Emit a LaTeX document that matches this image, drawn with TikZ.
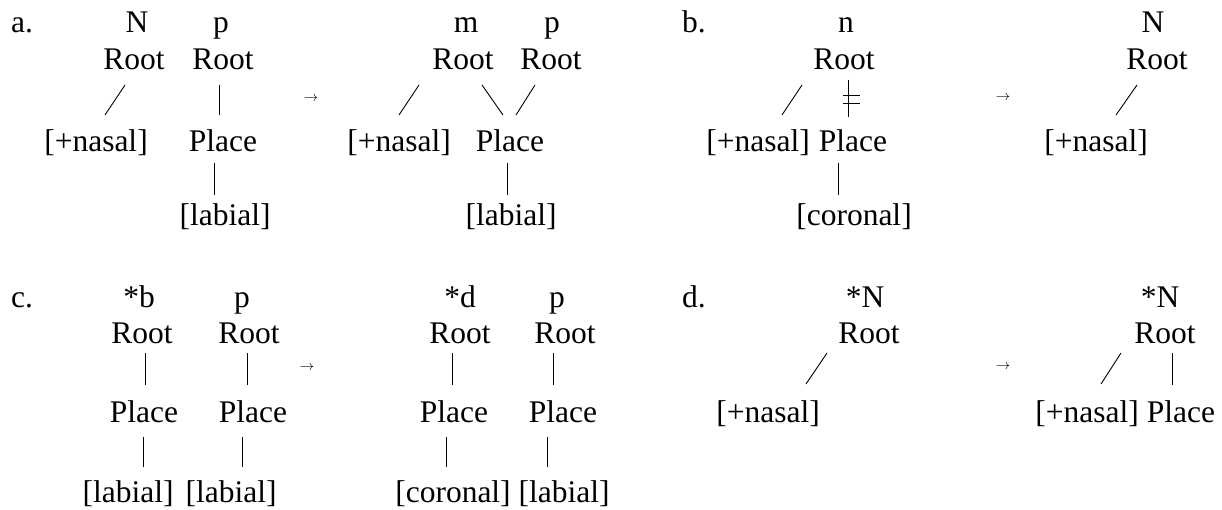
\documentclass[tikz,border=0pt]{standalone}
\usepackage{fontspec}
\setmainfont{Liberation Serif}
\usetikzlibrary{calc}
\tikzset{
  lab/.style={inner sep=0pt, anchor=base, font=\fontsize{31.5}{36}\selectfont},
  arr/.style={inner sep=0pt, anchor=center, font=\fontsize{15}{17}\selectfont},
  conn/.style={line width=0.9pt}
}
\begin{document}
\begin{tikzpicture}[x=1pt,y=-1pt]
\useasboundingbox (0,0) rectangle (1222,510);
% ---------- panel a ----------
\node[lab] (aL) at (22,33) {a.};
\node[lab] (aN) at (137,33) {N};
\node[lab] (ap) at (221,33) {p};
\node[lab] (aR1) at (134,70) {Root};
\node[lab] (aR2) at (223,70) {Root};
\node[lab] (aNas) at (96,152) {[+nasal]};
\node[lab] (aPl) at (223,152) {Place};
\node[lab] (aLab) at (225,226) {[labial]};
\draw[conn] ($(aR1.base)+(-9,15)$) -- ($(aNas.base)+(9,-37)$);
\draw[conn] ($(aR2.base)+(-4,15)$) -- ($(aPl.base)+(-4,-37)$);
\draw[conn] ($(aPl.base)+(-9,11)$) -- ($(aLab.base)+(-11,-31)$);
\node[arr] (aA) at (311,99) {$\rightarrow$};
\node[lab] (am) at (466,33) {m};
\node[lab] (ap2) at (552,33) {p};
\node[lab] (aR3) at (463,70) {Root};
\node[lab] (aR4) at (551,70) {Root};
\node[lab] (aNas2) at (399,152) {[+nasal]};
\node[lab] (aPl2) at (510,152) {Place};
\node[lab] (aLab2) at (511,226) {[labial]};
\draw[conn] ($(aR3.base)+(-44,15)$) -- ($(aNas2.base)+(0,-37)$);
\draw[conn] ($(aR3.base)+(19,15)$) -- ($(aPl2.base)+(-7,-37)$);
\draw[conn] ($(aR4.base)+(-16,15)$) -- ($(aPl2.base)+(6,-37)$);
\draw[conn] ($(aPl2.base)+(-3,11)$) -- ($(aLab2.base)+(-4,-31)$);
% ---------- panel b ----------
\node[lab] (bL) at (694,33) {b.};
\node[lab] (bn) at (846,33) {n};
\node[lab] (bR) at (844,70) {Root};
\node[lab] (bNas) at (758,152) {[+nasal]};
\node[lab] (bPl) at (853,152) {Place};
\node[lab] (bCor) at (854,226) {[coronal]};
\draw[conn] ($(bR.base)+(-42,15)$) -- ($(bNas.base)+(24,-37)$);
\draw[conn] ($(bR.base)+(4,10)$) -- ($(bPl.base)+(-5,-35)$);
\draw[conn] ($(bR.base)+(-1,25)$) -- ($(bR.base)+(16,25)$);
\draw[conn] ($(bR.base)+(-1,33)$) -- ($(bR.base)+(16,33)$);
\draw[conn] ($(bPl.base)+(-15,11)$) -- ($(bCor.base)+(-16,-31)$);
\node[arr] (bA) at (1003,98) {$\rightarrow$};
\node[lab] (bN) at (1153,33) {N};
\node[lab] (bR2) at (1157,70) {Root};
\node[lab] (bNas2) at (1096,152) {[+nasal]};
\draw[conn] ($(bR2.base)+(-20,15)$) -- ($(bNas2.base)+(20,-37)$);
% ---------- panel c ----------
\node[lab] (cL) at (22,308) {c.};
\node[lab] (cb) at (139,308) {*b};
\node[lab] (cp) at (242,308) {p};
\node[lab] (cR1) at (142,343) {Root};
\node[lab] (cR2) at (249,343) {Root};
\node[lab] (cPl1) at (144,422) {Place};
\node[lab] (cPl2) at (253,422) {Place};
\node[lab] (cLab1) at (128,502) {[labial]};
\node[lab] (cLab2) at (231,502) {[labial]};
\draw[conn] ($(cR1.base)+(3,10)$) -- ($(cPl1.base)+(1,-37)$);
\draw[conn] ($(cR2.base)+(-2,10)$) -- ($(cPl2.base)+(-6,-37)$);
\draw[conn] ($(cPl1.base)+(-1,15)$) -- ($(cLab1.base)+(15,-35)$);
\draw[conn] ($(cPl2.base)+(-11,15)$) -- ($(cLab2.base)+(11,-35)$);
\node[arr] (cA) at (307,368) {$\rightarrow$};
\node[lab] (cd) at (460,308) {*d};
\node[lab] (cp2) at (557,308) {p};
\node[lab] (cR3) at (460,343) {Root};
\node[lab] (cR4) at (565,343) {Root};
\node[lab] (cPl3) at (454,422) {Place};
\node[lab] (cPl4) at (563,422) {Place};
\node[lab] (cCor) at (453,502) {[coronal]};
\node[lab] (cLab3) at (564,502) {[labial]};
\draw[conn] ($(cR3.base)+(-8,10)$) -- ($(cPl3.base)+(-2,-37)$);
\draw[conn] ($(cR4.base)+(-12,10)$) -- ($(cPl4.base)+(-10,-37)$);
\draw[conn] ($(cPl3.base)+(-8,15)$) -- ($(cCor.base)+(-7,-35)$);
\draw[conn] ($(cPl4.base)+(-16,15)$) -- ($(cLab3.base)+(-17,-35)$);
% ---------- panel d ----------
\node[lab] (dL) at (694,308) {d.};
\node[lab] (dN) at (865,308) {*N};
\node[lab] (dR) at (869,343) {Root};
\node[lab] (dNas) at (768,422) {[+nasal]};
\draw[conn] ($(dR.base)+(-42,10)$) -- ($(dNas.base)+(38,-38)$);
\node[arr] (dA) at (1003,367) {$\rightarrow$};
\node[lab] (dN2) at (1160,308) {*N};
\node[lab] (dR2) at (1165,343) {Root};
\node[lab] (dNas2) at (1087,422) {[+nasal]};
\node[lab] (dPl) at (1181,422) {Place};
\draw[conn] ($(dR2.base)+(-44,10)$) -- ($(dNas2.base)+(14,-38)$);
\draw[conn] ($(dR2.base)+(7,10)$) -- ($(dPl.base)+(-9,-37)$);
\end{tikzpicture}
\end{document}
